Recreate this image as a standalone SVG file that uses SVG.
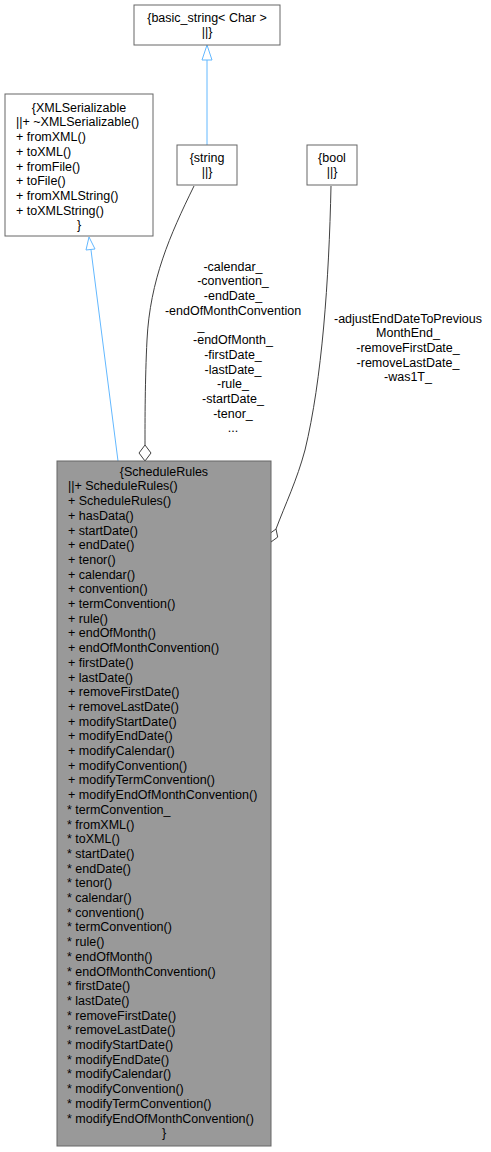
<svg xmlns="http://www.w3.org/2000/svg" width="491" height="1152" viewBox="0 0 491 1152">
<style>
text{font-family:"Liberation Sans",Arial,sans-serif;font-size:12.5px;fill:#000}
.c{text-anchor:middle}
.box{fill:#fff;stroke:#666;stroke-width:1}
.main{fill:#999;stroke:#666;stroke-width:1}
.inh{fill:none;stroke:#63B8FF;stroke-width:1}
.tri{fill:#fff;stroke:#63B8FF;stroke-width:1}
.agg{fill:none;stroke:#404040;stroke-width:1}
.dia{fill:#fff;stroke:#404040;stroke-width:1}
</style>
<rect width="491" height="1152" fill="#fff"/>
<g id="connectors">
<path class="inh" d="M207,145 L207,60"/>
<polygon class="tri" points="207,45 202,60 212,60"/>
<path class="inh" d="M118,461 L91,250"/>
<polygon class="tri" points="89,237 86,250 95,249"/>
<path class="agg" d="M194,186 C170,235 150,280 147,340 C145,380 145,420 145,445"/>
<polygon class="dia" points="145,445 151,453 145,461 139,453"/>
<path class="agg" d="M331,186 C329,280 322,380 305,450 C297,480 285,505 276,529"/>
<polygon class="dia" points="276,529 277.7,537.1 271,542 269.3,533.9"/>
<g id="label-string">
<text class="c" x="233" y="270.7">-calendar_</text>
<text class="c" x="233" y="285.4">-convention_</text>
<text class="c" x="233" y="300.1">-endDate_</text>
<text class="c" x="233" y="314.8">-endOfMonthConvention</text>
<text class="c" x="201" y="329.5">_</text>
<text class="c" x="233" y="344.2">-endOfMonth_</text>
<text class="c" x="233" y="358.9">-firstDate_</text>
<text class="c" x="233" y="373.6">-lastDate_</text>
<text class="c" x="233" y="388.3">-rule_</text>
<text class="c" x="233" y="403">-startDate_</text>
<text class="c" x="233" y="417.7">-tenor_</text>
<text class="c" x="233" y="432.4">...</text>
</g>
<g id="label-bool">
<text class="c" x="408" y="322.5">-adjustEndDateToPrevious</text>
<text class="c" x="408" y="337.2">MonthEnd_</text>
<text class="c" x="408" y="351.9">-removeFirstDate_</text>
<text class="c" x="408" y="366.6">-removeLastDate_</text>
<text class="c" x="408" y="381.3">-was1T_</text>
</g>
</g>
<g id="node-basic_string">
<rect class="box" x="134" y="5" width="146" height="40"/>
<text class="c" x="207" y="21.5">{basic_string&lt; Char &gt;</text>
<text class="c" x="207" y="36.2">||}</text>
</g>
<g id="node-XMLSerializable">
<rect class="box" x="5" y="94" width="148" height="142"/>
<text class="c" x="79" y="111.7">{XMLSerializable</text>
<text x="16" y="126.4">||+ ~XMLSerializable()</text>
<text x="16" y="141.1">+ fromXML()</text>
<text x="16" y="155.8">+ toXML()</text>
<text x="16" y="170.5">+ fromFile()</text>
<text x="16" y="185.2">+ toFile()</text>
<text x="16" y="199.9">+ fromXMLString()</text>
<text x="16" y="214.6">+ toXMLString()</text>
<text class="c" x="79" y="229.3">}</text>
</g>
<g id="node-string">
<rect class="box" x="177" y="145" width="60" height="40"/>
<text class="c" x="207" y="161.7">{string</text>
<text class="c" x="207" y="176.4">||}</text>
</g>
<g id="node-bool">
<rect class="box" x="307" y="145" width="50" height="40"/>
<text class="c" x="332" y="161.7">{bool</text>
<text class="c" x="332" y="176.4">||}</text>
</g>
<g id="node-ScheduleRules">
<rect class="main" x="57" y="461" width="214" height="685"/>
<text class="c" x="164" y="475.7">{ScheduleRules</text>
<text x="68" y="475.7"><tspan x="68" dy="14.7">||+ ScheduleRules()</tspan><tspan x="68" dy="14.7">+ ScheduleRules()</tspan><tspan x="68" dy="14.7">+ hasData()</tspan><tspan x="68" dy="14.7">+ startDate()</tspan><tspan x="68" dy="14.7">+ endDate()</tspan><tspan x="68" dy="14.7">+ tenor()</tspan><tspan x="68" dy="14.7">+ calendar()</tspan><tspan x="68" dy="14.7">+ convention()</tspan><tspan x="68" dy="14.7">+ termConvention()</tspan><tspan x="68" dy="14.7">+ rule()</tspan><tspan x="68" dy="14.7">+ endOfMonth()</tspan><tspan x="68" dy="14.7">+ endOfMonthConvention()</tspan><tspan x="68" dy="14.7">+ firstDate()</tspan><tspan x="68" dy="14.7">+ lastDate()</tspan><tspan x="68" dy="14.7">+ removeFirstDate()</tspan><tspan x="68" dy="14.7">+ removeLastDate()</tspan><tspan x="68" dy="14.7">+ modifyStartDate()</tspan><tspan x="68" dy="14.7">+ modifyEndDate()</tspan><tspan x="68" dy="14.7">+ modifyCalendar()</tspan><tspan x="68" dy="14.7">+ modifyConvention()</tspan><tspan x="68" dy="14.7">+ modifyTermConvention()</tspan><tspan x="68" dy="14.7">+ modifyEndOfMonthConvention()</tspan><tspan x="67" dy="14.7">* termConvention_</tspan><tspan x="67" dy="14.7">* fromXML()</tspan><tspan x="67" dy="14.7">* toXML()</tspan><tspan x="67" dy="14.7">* startDate()</tspan><tspan x="67" dy="14.7">* endDate()</tspan><tspan x="67" dy="14.7">* tenor()</tspan><tspan x="67" dy="14.7">* calendar()</tspan><tspan x="67" dy="14.7">* convention()</tspan><tspan x="67" dy="14.7">* termConvention()</tspan><tspan x="67" dy="14.7">* rule()</tspan><tspan x="67" dy="14.7">* endOfMonth()</tspan><tspan x="67" dy="14.7">* endOfMonthConvention()</tspan><tspan x="67" dy="14.7">* firstDate()</tspan><tspan x="67" dy="14.7">* lastDate()</tspan><tspan x="67" dy="14.7">* removeFirstDate()</tspan><tspan x="67" dy="14.7">* removeLastDate()</tspan><tspan x="67" dy="14.7">* modifyStartDate()</tspan><tspan x="67" dy="14.7">* modifyEndDate()</tspan><tspan x="67" dy="14.7">* modifyCalendar()</tspan><tspan x="67" dy="14.7">* modifyConvention()</tspan><tspan x="67" dy="14.7">* modifyTermConvention()</tspan><tspan x="67" dy="14.7">* modifyEndOfMonthConvention()</tspan></text>
<text class="c" x="164" y="1137.2">}</text>
</g>
</svg>
